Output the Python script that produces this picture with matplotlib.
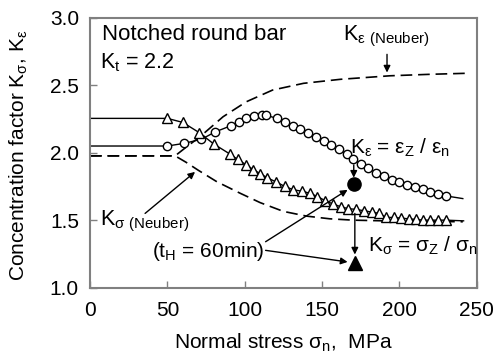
import numpy as np
import matplotlib
matplotlib.use('Agg')
import matplotlib.pyplot as plt

plt.rcParams['font.family'] = ['Liberation Sans', 'DejaVu Sans']
plt.rcParams['mathtext.default'] = 'regular'

# measured K_eps = eps_Z / eps_n (open circles)
circ_x = [0, 50, 61, 72, 81, 91, 96, 101, 106, 111, 114, 121, 126, 131, 136, 141, 146, 151,
          156, 161, 166, 170, 175, 180, 185, 190, 195, 200, 205, 210, 215, 220, 225, 230, 241]
circ_y = [2.05, 2.05, 2.07, 2.10, 2.155, 2.20, 2.23, 2.255, 2.275, 2.28, 2.277, 2.255, 2.23, 2.20,
          2.175, 2.15, 2.12, 2.09, 2.06, 2.025, 1.99, 1.955, 1.92, 1.89, 1.85, 1.825, 1.80, 1.78,
          1.76, 1.745, 1.73, 1.71, 1.695, 1.68, 1.66]

# measured K_sigma = sigma_Z / sigma_n (open triangles)
tri_x = [0, 50, 60, 70.5, 80, 90.5, 95.5, 101, 105.5, 110, 114.5, 120, 126, 131.5, 137, 142, 147,
         152, 157, 162, 167, 172, 177, 182, 187, 191.5, 196.5, 201, 206, 211, 215.5, 220, 225, 230, 241.5]
tri_y = [2.255, 2.255, 2.225, 2.15, 2.065, 1.99, 1.95, 1.91, 1.875, 1.845, 1.815, 1.785, 1.75, 1.725,
         1.715, 1.70, 1.675, 1.645, 1.62, 1.60, 1.585, 1.58, 1.57, 1.56, 1.55, 1.52, 1.52, 1.515,
         1.51, 1.505, 1.50, 1.50, 1.50, 1.50, 1.495]

# Neuber estimates (dashed)
neu_eps_x = [0, 55, 62, 71, 86, 101, 118, 138, 162, 194, 220, 245]
neu_eps_y = [1.977, 1.977, 2.04, 2.118, 2.267, 2.378, 2.465, 2.515, 2.545, 2.571, 2.582, 2.59]
neu_sig_x = [0, 55, 62, 70, 82, 97, 110, 125, 140, 155, 170, 190, 241]
neu_sig_y = [1.977, 1.977, 1.93, 1.87, 1.785, 1.70, 1.63, 1.565, 1.53, 1.51, 1.50, 1.495, 1.488]

# holding time t_H = 60 min
th_eps = (170.5, 1.77)
th_sig = (171.2, 1.18)

fig = plt.figure(figsize=(4.93, 3.59), dpi=100)
ax = fig.add_axes([0.1826, 0.199, 0.7844, 0.751])

dash = (0, (7, 3.5))
ax.plot(neu_eps_x, neu_eps_y, color='k', lw=1.2, ls=dash)
ax.plot(neu_sig_x, neu_sig_y, color='k', lw=1.2, ls=dash)
ax.plot(circ_x, circ_y, color='k', lw=1, marker='o', ms=6, mfc='white', mec='k', mew=1,
        markevery=slice(1, len(circ_x) - 1))
ax.plot(tri_x, tri_y, color='k', lw=1, marker='^', ms=6.5, mfc='white', mec='k', mew=1,
        markevery=slice(1, len(tri_x) - 1))
ax.plot(*th_eps, 'o', color='k', ms=9.5)
ax.plot(*th_sig, '^', color='k', ms=10)

ax.set_xlim(0, 250)
ax.set_ylim(1, 3)
ax.set_xticks([0, 50, 100, 150, 200, 250])
ax.set_yticks([1.0, 1.5, 2.0, 2.5, 3.0])
ax.set_yticklabels(['1.0', '1.5', '2.0', '2.5', '3.0'])
ax.tick_params(direction='in', length=5, width=1, color='#808080', labelsize=15)
ax.tick_params(axis='x', pad=10)
ax.tick_params(axis='y', pad=8)
for s in ax.spines.values():
    s.set_color('#808080')
    s.set_linewidth(1.5)

ax.set_xlabel('Normal stress σ$_n$,  MPa', fontsize=15)
ax.set_ylabel('Concentration factor K$_σ$, K$_ε$', fontsize=15)
ax.xaxis.set_label_coords(0.5, -0.165)
ax.yaxis.set_label_coords(-0.155, 0.49)

ax.text(7.6, 2.874, 'Notched round bar', fontsize=16, va='center')
ax.text(6.5, 2.666, 'K$_t$ = 2.2', fontsize=15.5, va='center')
ax.text(163.8, 2.866, 'K$_{ε\\ (Neuber)}$', fontsize=15.5, va='center')
ax.text(168.1, 2.034, 'K$_ε$ = ε$_Z$ / ε$_n$', fontsize=15, va='center')
ax.text(180, 1.306, 'K$_σ$ = σ$_Z$ / σ$_n$', fontsize=15, va='center')
ax.text(6.5, 1.487, 'K$_{σ\\ (Neuber)}$', fontsize=15.5, va='center')
ax.text(76.5, 1.264, '(t$_H$ = 60min)', fontsize=15, va='center', ha='center')

arr = dict(arrowstyle='-|>', color='k', lw=1, mutation_scale=10, shrinkA=0, shrinkB=0)
ax.annotate('', xy=(192, 2.595), xytext=(192, 2.73), arrowprops=arr)
ax.annotate('', xy=(170.5, 1.815), xytext=(170.5, 1.91), arrowprops=arr)
ax.annotate('', xy=(171.2, 1.245), xytext=(171.2, 1.55), arrowprops=arr)
ax.annotate('', xy=(67.9, 1.858), xytext=(35.6, 1.55), arrowprops=arr)
ax.annotate('', xy=(166.5, 1.725), xytext=(113.5, 1.34), arrowprops=arr)
ax.annotate('', xy=(166.5, 1.19), xytext=(113.5, 1.276), arrowprops=arr)

plt.savefig('out.png', dpi=100)
